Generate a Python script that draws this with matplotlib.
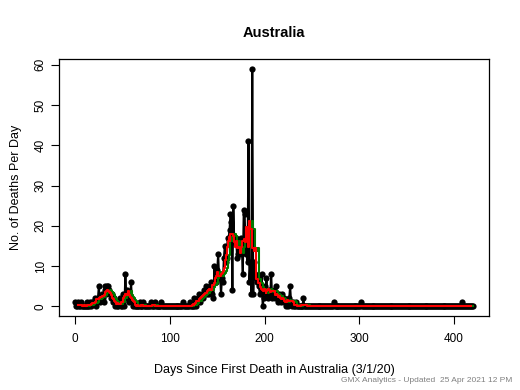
import matplotlib
matplotlib.use("Agg")
import matplotlib.pyplot as plt
import numpy as np
import pandas as pd

plt.rcParams["font.family"] = ["Liberation Sans", "DejaVu Sans"]

COUNTRY = "Australia"
START_LABEL = "3/1/20"
FOOTER = "GMX Analytics - Updated  25 Apr 2021 12 PM"

# daily deaths, day 0 = 1 Mar 2020
deaths = (
    [1, 0, 0, 1, 0, 0, 1, 0, 0, 0, 0, 0, 1, 0, 0, 0, 1, 0, 1, 1]
    + [1, 2, 0, 1, 2, 5, 1, 2, 3, 2, 1, 4, 5, 3, 5, 5, 4, 3, 2, 3]
    + [1, 2, 0, 1, 0, 0, 1, 2, 0, 0, 1, 3, 0, 8, 2, 4, 3, 1, 2, 6]
    + [1, 0, 1, 0, 0, 0, 0, 0, 1, 0, 0, 0, 1, 0, 0, 0, 0, 0, 0, 0]
    + [1, 0, 0, 0, 1, 0, 0, 0, 0, 0, 0, 1, 0, 0, 0, 0, 0, 0, 0, 0]
    + [0, 0, 0, 0, 0, 0, 0, 0, 0, 0, 0, 0, 0, 0, 1, 0, 0, 0, 0, 0]
    + [0, 1, 0, 0, 0, 0, 2, 1, 0, 1, 2, 3, 1, 2, 3, 2, 4, 3, 5, 3]
    + [4, 3, 5, 6, 5, 3, 2, 10, 6, 6, 9, 13, 7, 8, 3, 7, 6, 12, 15, 11]
    + [12, 17, 17, 19, 23, 21, 4, 25, 16, 17, 17, 12, 13, 14, 13, 17, 15, 8, 24, 23]
    + [13, 18, 11, 41, 6, 11, 3, 59, 3, 11, 8, 7, 6, 7, 5, 3, 5, 8, 0, 2]
    + [5, 4, 7, 3, 2, 4, 3, 8, 2, 3, 4, 2, 5, 3, 1, 3, 2, 1, 3, 2]
    + [1, 2, 1, 0, 1, 0, 2, 5, 1, 0, 1, 0, 0, 1, 0, 0, 0, 0, 0, 0]
    + [0, 2, 0, 0, 0, 0, 0, 0, 0, 0, 0, 0, 0, 0, 0, 0, 0, 0, 0, 0]
    + [0] * 13 + [1] + [0] * 28 + [1] + [0] * 105 + [1] + [0] * 12
)
days = np.arange(len(deaths))

series = pd.Series(deaths, index=days, dtype=float)
trailing7 = series.rolling(7).mean()
centered7 = series.rolling(7, center=True).mean()

fig = plt.figure(figsize=(5.2, 3.9), dpi=100)
ax = fig.add_axes([0.114, 0.190, 0.826, 0.658])

ax.plot(days, deaths, color="black", linewidth=1.5, marker="o",
        markersize=4.5, markeredgewidth=0)
ax.plot(days, trailing7, color="#007a00", linewidth=1.5, drawstyle="steps-post")
ax.plot(days, centered7, color="#ff0000", linewidth=1.5, drawstyle="steps-post")

xmax = days[-1]
ymax = max(deaths)
ax.set_xlim(-0.04 * xmax, 1.04 * xmax)
ax.set_ylim(-0.04 * ymax, 1.04 * ymax)
ax.set_xticks([0, 100, 200, 300, 400])
ax.set_yticks([0, 10, 20, 30, 40, 50, 60])
ax.tick_params(direction="out", length=6, width=0.8, labelsize=8.5)
ax.tick_params(axis="x", pad=6)
ax.tick_params(axis="y", pad=3)
plt.setp(ax.get_yticklabels(), rotation=90, va="center")
for sp in ax.spines.values():
    sp.set_linewidth(0.9)

ax.set_title(COUNTRY, fontsize=10.5, fontweight="bold", pad=16)
ax.set_xlabel(f"Days Since First Death in {COUNTRY} ({START_LABEL})", fontsize=9, labelpad=14)
ax.set_ylabel("No. of Deaths Per Day", fontsize=9, labelpad=9)

fig.text(0.985, 0.015, FOOTER, ha="right", va="bottom", fontsize=6, color="#808080")

fig.savefig("out.png", dpi=100)
